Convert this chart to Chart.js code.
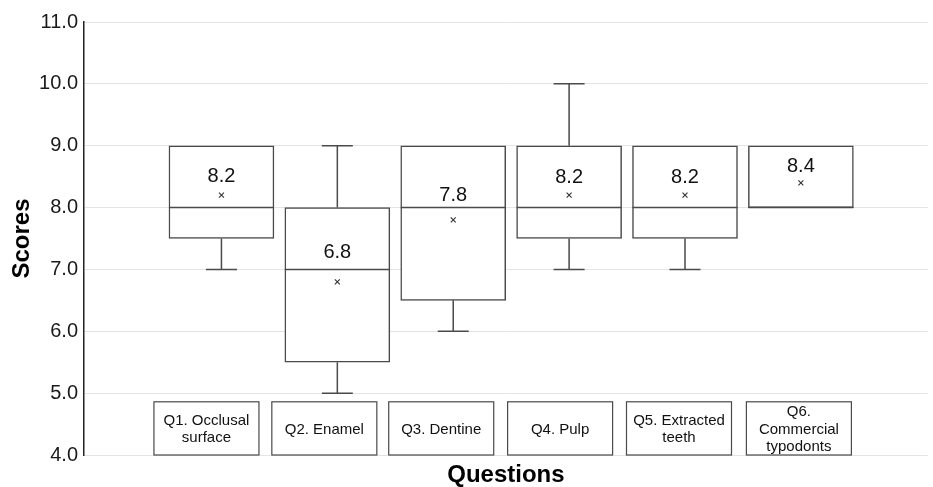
<!DOCTYPE html>
<html>
<head>
<meta charset="utf-8">
<script src="https://cdn.jsdelivr.net/npm/chart.js@4"></script>
<style>
  body { margin: 0; background: #fff; }
  #wrap { width: 933px; height: 487px; }
</style>
</head>
<body>
<div id="wrap"><canvas id="scores-chart"></canvas></div>
<script>
// box plot values per question
const questions = [['Q1. Occlusal', 'surface'], ['Q2. Enamel'], ['Q3. Dentine'], ['Q4. Pulp'], ['Q5. Extracted', 'teeth'], ['Q6.', 'Commercial', 'typodonts']];
const positions = [1, 2, 3, 4, 5, 6];
const mins = [7, 5, 6, 7, 7, 8];
const q1s = [7.5, 5.5, 6.5, 7.5, 7.5, 8];
const medians = [8, 7, 8, 8, 8, 8];
const q3s = [9, 8, 9, 9, 9, 9];
const maxs = [9, 9, 9, 10, 9, 9];
const means = [8.2, 6.8, 7.8, 8.2, 8.2, 8.4];
const yTicks = [4, 5, 6, 7, 8, 9, 10, 11];

// styling only
const lineColor = '#4a4a4a';
const fontFamily = "'Liberation Sans', Arial, sans-serif";
const meanLabelGap = [19, 29, 24, 18, 18, 16];
const labelShift = [-15, -13, -12, -9, -6, -2];

const extras = {
    id: 'boxExtras',
    afterDatasetsDraw(chart) {
        const c = chart.ctx, x = chart.scales.x, y = chart.scales.y;
        c.save();
        c.strokeStyle = lineColor;
        c.lineWidth = 1.5;
        positions.forEach(function (p, i) {
            const px = x.getPixelForValue(p);
            const half = 52.5, cap = 15.5;
            c.beginPath();
            // median
            c.moveTo(px - half, y.getPixelForValue(medians[i]));
            c.lineTo(px + half, y.getPixelForValue(medians[i]));
            // lower whisker
            if (mins[i] < q1s[i]) {
                c.moveTo(px, y.getPixelForValue(q1s[i]));
                c.lineTo(px, y.getPixelForValue(mins[i]));
                c.moveTo(px - cap, y.getPixelForValue(mins[i]));
                c.lineTo(px + cap, y.getPixelForValue(mins[i]));
            }
            // upper whisker
            if (maxs[i] > q3s[i]) {
                c.moveTo(px, y.getPixelForValue(q3s[i]));
                c.lineTo(px, y.getPixelForValue(maxs[i]));
                c.moveTo(px - cap, y.getPixelForValue(maxs[i]));
                c.lineTo(px + cap, y.getPixelForValue(maxs[i]));
            }
            c.stroke();
        });
        c.restore();
    },
    afterDraw(chart) {
        const c = chart.ctx, x = chart.scales.x, y = chart.scales.y;
        c.save();
        // mean labels
        c.fillStyle = '#111';
        c.textAlign = 'center';
        c.textBaseline = 'middle';
        c.font = '20px ' + fontFamily;
        positions.forEach(function (p, i) {
            c.fillText(means[i].toFixed(1), x.getPixelForValue(p), y.getPixelForValue(means[i]) - meanLabelGap[i]);
        });
        // category boxes inside the plot
        c.font = '15px ' + fontFamily;
        c.strokeStyle = lineColor;
        c.lineWidth = 1.2;
        const top = y.getPixelForValue(4.86), bottom = y.getPixelForValue(4.0);
        positions.forEach(function (p, i) {
            const cx = x.getPixelForValue(p) + labelShift[i];
            c.fillStyle = '#fff';
            c.fillRect(cx - 52.5, top, 105, bottom - top);
            c.strokeRect(cx - 52.5, top, 105, bottom - top);
            c.fillStyle = '#111';
            const lines = questions[i];
            const mid = (top + bottom) / 2 + 1;
            lines.forEach(function (t, k) {
                c.fillText(t, cx, mid + (k - (lines.length - 1) / 2) * 17.5);
            });
        });
        c.restore();
    }
};

new Chart(document.getElementById('scores-chart').getContext('2d'), {
    type: 'bar',
    data: {
        datasets: [{
            type: 'bar',
            order: 2,
            data: positions.map(function (p, i) { return { x: p, y: [q1s[i], q3s[i]] }; }),
            backgroundColor: '#fff',
            borderColor: lineColor,
            borderWidth: 1.5,
            borderSkipped: false,
            barThickness: 105
        }, {
            type: 'scatter',
            order: 1,
            data: positions.map(function (p, i) { return { x: p, y: means[i] }; }),
            pointStyle: 'crossRot',
            pointRadius: 3.5,
            pointBorderColor: '#333',
            pointBackgroundColor: '#333',
            pointBorderWidth: 1.1
        }]
    },
    options: {
        responsive: true,
        maintainAspectRatio: false,
        animation: false,
        layout: { padding: { top: 22, right: 0, left: 0, bottom: 0 } },
        plugins: { legend: { display: false }, tooltip: { enabled: false } },
        scales: {
            x: {
                type: 'linear',
                offset: false,
                min: -0.186,
                max: 7.096,
                grid: { display: false, drawTicks: false, offset: false },
                border: { display: false },
                ticks: { display: false },
                title: {
                    display: true,
                    text: 'Questions',
                    color: '#000',
                    font: { family: fontFamily, size: 24, weight: 'bold', lineHeight: 1 },
                    padding: { top: 8, bottom: 0 }
                },
                afterFit: function (s) { s.height = 32; }
            },
            y: {
                min: 4,
                max: 11,
                afterBuildTicks: function (s) { s.ticks = yTicks.map(function (v) { return { value: v }; }); },
                grid: { color: '#e4e4e4', lineWidth: 1, drawTicks: false },
                border: { display: true, color: '#222', width: 1.5 },
                ticks: {
                    color: '#1a1a1a',
                    padding: 6,
                    font: { family: fontFamily, size: 20 },
                    callback: function (v) { return Number(v).toFixed(1); }
                },
                title: {
                    display: true,
                    text: 'Scores',
                    color: '#000',
                    font: { family: fontFamily, size: 24, weight: 'bold', lineHeight: 1 },
                    padding: { top: 10, bottom: 0 }
                },
                afterFit: function (s) { s.width = 84; }
            }
        }
    },
    plugins: [extras]
});
</script>
</body>
</html>
